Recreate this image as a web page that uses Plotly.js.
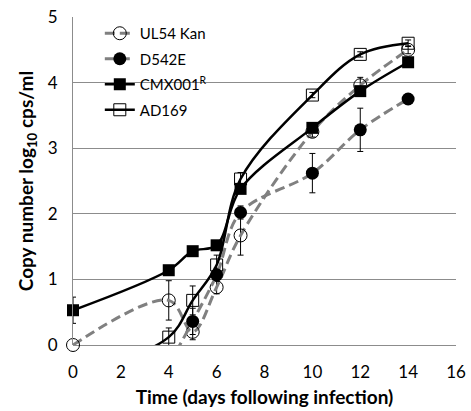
<!DOCTYPE html>
<html>
<head>
<meta charset="utf-8">
<script src="https://cdn.plot.ly/plotly-3.0.1.min.js"></script>
<style>html,body{margin:0;padding:0;background:#fff;}#chart{width:471px;height:411px;}</style>
</head>
<body>
<div id="chart"></div>
<script>
// Data (values below 0 are undetectable points, off the chart)
var ulDays = [0, 4, 5, 6, 7, 10, 12, 14];
var ulValues = [0, 0.68, 0.2, 0.88, 1.67, 3.25, 3.96, 4.5];
var ulErr = [0, 0.3, 0.12, 0.1, 0.3, 0.08, 0.12, 0.06];

var dDays = [4, 5, 6, 7, 10, 12, 14];
var dValues = [-0.3, 0.36, 1.07, 2.02, 2.62, 3.28, 3.75];
var dErr = [0, 0.2, 0.1, 0.1, 0.3, 0.33, 0.04];

var cmxDays = [0, 4, 5, 6, 7, 10, 12, 14];
var cmxValues = [0.53, 1.14, 1.43, 1.52, 2.38, 3.31, 3.87, 4.31];
var cmxErr = [0.2, 0.04, 0.04, 0.04, 0.05, 0.05, 0.05, 0.05];

var adDays = [0, 4, 5, 6, 7, 10, 12, 14];
var adValues = [-0.5, 0.12, 0.68, 1.22, 2.53, 3.81, 4.43, 4.6];
var adErr = [0, 0.14, 0.22, 0.15, 0.1, 0.04, 0.04, 0.05];

var xTicks = [0, 2, 4, 6, 8, 10, 12, 14, 16];
var yTicks = [0, 1, 2, 3, 4, 5];

var gray = '#808080';
var fontFam = 'Lato, "Open Sans", sans-serif';
function errBar(arr) {
  return {type: 'data', array: arr, visible: true, color: '#000', thickness: 1, width: 3};
}

var traces = [
  {x: ulDays, y: ulValues, name: 'UL54 Kan', legendgroup: 'a', mode: 'lines+markers',
   line: {color: gray, width: 3, dash: '10px,5px', shape: 'spline'},
   marker: {symbol: 'circle-open', size: 13, color: '#000', line: {width: 1, color: '#000'}},
   error_y: errBar(ulErr), cliponaxis: false},
  {x: dDays, y: dValues, name: 'D542E', legendgroup: 'b', mode: 'lines+markers',
   line: {color: gray, width: 3, dash: '10px,5px', shape: 'spline'},
   marker: {symbol: 'circle', size: 13, color: '#000'},
   error_y: errBar(dErr), cliponaxis: true},
  {x: cmxDays, y: cmxValues, name: 'CMX001<sup>R</sup>', legendgroup: 'c', mode: 'lines+markers',
   line: {color: '#000', width: 2.5, shape: 'spline'},
   marker: {symbol: 'square', size: 12, color: '#000'},
   error_y: errBar(cmxErr), cliponaxis: false},
  {x: adDays, y: adValues, name: 'AD169', legendgroup: 'd', mode: 'lines+markers',
   line: {color: '#000', width: 2.5, shape: 'spline'},
   marker: {symbol: 'square-open', size: 12, color: '#000', line: {width: 1, color: '#000'}},
   error_y: errBar(adErr), cliponaxis: true}
];

var layout = {
  width: 471, height: 411,
  margin: {l: 73, r: 15, t: 17, b: 66},
  paper_bgcolor: '#fff', plot_bgcolor: '#fff',
  font: {family: fontFam, color: '#000'},
  showlegend: true,
  legend: {x: 0.07, y: 1.0, xanchor: 'left', yanchor: 'top', bgcolor: 'rgba(255,255,255,0)',
           font: {size: 15, family: fontFam}, traceorder: 'grouped', tracegroupgap: 3},
  xaxis: {range: [0, 16], tickvals: xTicks, ticktext: xTicks.map(String), showgrid: false, zeroline: false,
          showline: false, ticks: 'outside', ticklen: 12, tickcolor: 'rgba(0,0,0,0)',
          tickfont: {size: 17, family: fontFam}, automargin: false,
          title: {text: 'Time (days following infection)', font: {size: 19, family: fontFam, weight: 'bold'}, standoff: 9}},
  yaxis: {range: [0, 5], tickvals: yTicks, ticktext: yTicks.map(String), showgrid: true, gridcolor: '#8c8c8c', gridwidth: 1,
          zeroline: true, zerolinecolor: '#8c8c8c', zerolinewidth: 1,
          showline: true, linecolor: '#8c8c8c', linewidth: 1, ticks: 'outside', ticklen: 11, tickcolor: 'rgba(0,0,0,0)',
          tickfont: {size: 17, family: fontFam}, automargin: false,
          title: {text: 'Copy number log<sub>10</sub> cps/ml', font: {size: 19, family: fontFam, weight: 'bold'}, standoff: 9}}
};

Plotly.newPlot('chart', traces, layout, {displayModeBar: false, staticPlot: true});
</script>
</body>
</html>
